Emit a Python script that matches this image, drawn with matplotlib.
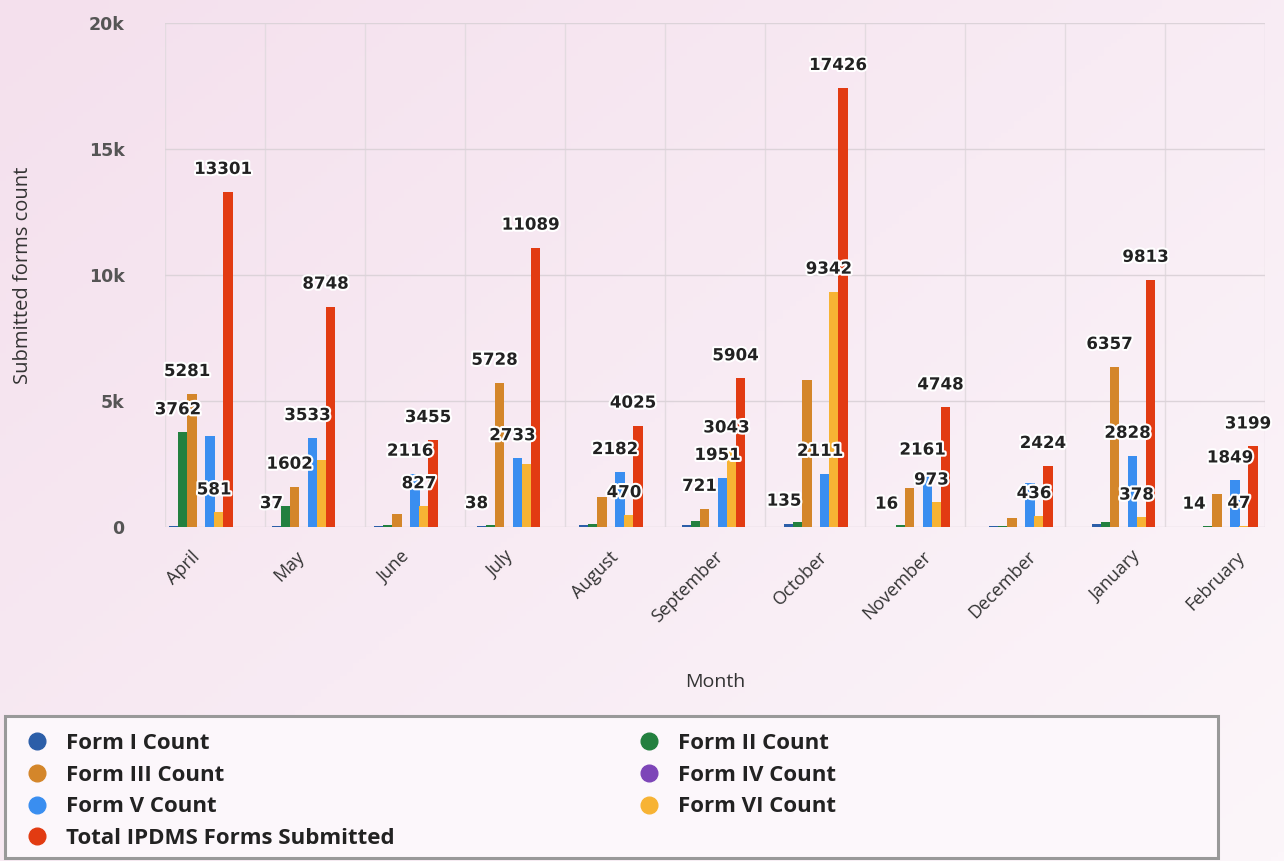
import numpy as np
import matplotlib
matplotlib.use("Agg")
import matplotlib.pyplot as plt
import matplotlib.patheffects as pe
from matplotlib.lines import Line2D
from matplotlib.patches import Rectangle
from matplotlib.colors import LinearSegmentedColormap

# ── data ─────────────────────────────────────────────────────────
months = ["April", "May", "June", "July", "August", "September",
          "October", "November", "December", "January", "February"]

form1 = [40, 37, 30, 38, 60, 80, 135, 16, 40, 120, 14]
form2 = [3762, 850, 90, 70, 120, 250, 200, 60, 50, 200, 40]
form3 = [5281, 1602, 500, 5728, 1200, 721, 5850, 1550, 340, 6357, 1300]
form4 = [0, 0, 0, 0, 0, 0, 0, 0, 0, 0, 0]
form5 = [3620, 3533, 2116, 2733, 2182, 1951, 2111, 2161, 1750, 2828, 1849]
form6 = [581, 2650, 827, 2500, 470, 3043, 9342, 973, 436, 378, 47]
total = [13301, 8748, 3455, 11089, 4025, 5904, 17426, 4748, 2424, 9813, 3199]

series_names = ["Form I Count", "Form II Count", "Form III Count", "Form IV Count",
                "Form V Count", "Form VI Count", "Total IPDMS Forms Submitted"]
series_vals = [form1, form2, form3, form4, form5, form6, total]

# which data labels are visible (month index -> series indices)
shown_labels = {
    0: [1, 2, 5, 6], 1: [0, 2, 4, 6], 2: [4, 5, 6], 3: [0, 2, 4, 6],
    4: [4, 5, 6], 5: [2, 4, 5, 6], 6: [0, 4, 5, 6], 7: [0, 4, 5, 6],
    8: [5, 6], 9: [2, 4, 5, 6], 10: [0, 4, 5, 6],
}

COLORS = ["#2c5ea8", "#23803f", "#d4862a", "#7d45b8", "#3a8ef0", "#f7b334", "#e23b12"]

fig = plt.figure(figsize=(12.84, 8.61), dpi=100)

# soft pink background gradient
bg = fig.add_axes([0, 0, 1, 1], zorder=-10)
gx, gy = np.meshgrid(np.linspace(0, 1, 200), np.linspace(0, 1, 200))
grad = 0.55 * gx + 0.45 * gy
cmap = LinearSegmentedColormap.from_list("bg", ["#f4e0ed", "#fcf6fa"])
bg.imshow(grad, cmap=cmap, aspect="auto", extent=[0, 1, 0, 1], origin="upper")
bg.axis("off")

ax = fig.add_axes([0.1285, 0.388, 0.8567, 0.5853])
ax.set_facecolor("none")

x = np.arange(len(months))
slot = 0.09
# slight perspective skew of the groups (3d look of the original)
centers = x - 0.14 + 0.025 * x

for k, (name, vals) in enumerate(zip(series_names, series_vals)):
    ax.bar(centers + (k - 3) * slot, vals, width=slot * 1.02,
           color=COLORS[k], label=name, zorder=3)

for m, idxs in shown_labels.items():
    for k in idxs:
        v = series_vals[k][m]
        ax.text(centers[m] + (k - 3) * slot - 0.05, v + 550, f"{v}",
                ha="center", va="bottom", fontsize=12, fontweight="bold",
                color="#222222", zorder=5,
                path_effects=[pe.withStroke(linewidth=3, foreground="white")])

ax.set_xlim(-0.5, len(months) - 0.5)
ax.set_ylim(0, 20000)
ax.set_yticks([0, 5000, 10000, 15000, 20000])
ax.set_yticklabels(["0", "5k", "10k", "15k", "20k"], fontsize=12.5,
                   fontweight="bold", color="#555555")
ax.tick_params(axis="y", length=0, pad=29)

ax.set_xticks(x - 0.24 + 0.045 * x)
ax.set_xticklabels(months, rotation=45, ha="right", rotation_mode="anchor",
                   fontsize=13, family="Open Sans", color="#333333")
ax.tick_params(axis="x", length=0, pad=15)
ax.set_xticks(np.arange(-0.5, len(months)), minor=True)
ax.tick_params(axis="x", which="minor", length=0)

ax.grid(axis="y", color="#dcd3d9", linewidth=1, zorder=0)
ax.grid(axis="x", which="minor", color="#e3dbe0", linewidth=1, zorder=0)
for s in ax.spines.values():
    s.set_visible(False)

ax.set_ylabel("Submitted forms count", family="Open Sans", fontsize=14.5,
              color="#333333", labelpad=40)
ax.set_xlabel("Month", family="Open Sans", fontsize=14, color="#333333",
              labelpad=34)

# ── legend: frame + two columns ─────────────────────────────────
fig.patches.append(Rectangle((5 / 1284, 3 / 861), 1213 / 1284, 142 / 861,
                             transform=fig.transFigure, facecolor="#fcf7fb",
                             edgecolor="#999999", linewidth=2.2, zorder=1))

handles = [Line2D([], [], marker="o", linestyle="none", markersize=12,
                  markerfacecolor=c, markeredgecolor=c) for c in COLORS]
leg_kw = dict(loc="upper left", frameon=False, handlelength=1.0,
              handletextpad=0.8, labelspacing=0.48, borderpad=0,
              borderaxespad=0,
              prop={"family": "Open Sans", "weight": "bold", "size": 16})
for idxs, x0 in [([0, 2, 4, 6], 26), ([1, 3, 5], 638)]:
    leg = fig.legend([handles[i] for i in idxs], [series_names[i] for i in idxs],
                     bbox_to_anchor=(x0 / 1284, 1 - 733 / 861), **leg_kw)
    leg.set_zorder(2)
    for t in leg.get_texts():
        t.set_color("#222222")

fig.savefig("out.png", dpi=100)
